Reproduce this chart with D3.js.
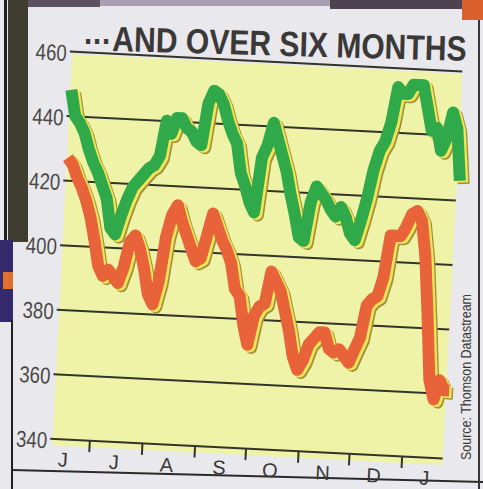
<!DOCTYPE html>
<head>
<meta charset="utf-8">
<script src="https://d3js.org/d3.v7.min.js"></script>
<style>
  body { margin: 0; background: #e9e8ec; }
  svg { display: block; }
  .narrow { font-family: "Liberation Sans Narrow", "Arial Narrow", "Liberation Sans", Arial, sans-serif; }
</style>
</head>
<body>
<div id="chart"></div>
<script>
var dates = [
  "2004-06-10","2004-06-13","2004-06-16","2004-06-19","2004-06-22","2004-06-25","2004-06-28",
  "2004-07-01","2004-07-04","2004-07-07","2004-07-10","2004-07-13","2004-07-16","2004-07-19","2004-07-22","2004-07-25","2004-07-28","2004-07-31",
  "2004-08-03","2004-08-06","2004-08-09","2004-08-12","2004-08-15","2004-08-18","2004-08-21","2004-08-24","2004-08-27","2004-08-30",
  "2004-09-02","2004-09-05","2004-09-08","2004-09-11","2004-09-14","2004-09-17","2004-09-20","2004-09-23","2004-09-26","2004-09-29",
  "2004-10-02","2004-10-05","2004-10-08","2004-10-11","2004-10-14","2004-10-17","2004-10-20","2004-10-23","2004-10-26","2004-10-29",
  "2004-11-01","2004-11-04","2004-11-07","2004-11-10","2004-11-13","2004-11-16","2004-11-19","2004-11-22","2004-11-25","2004-11-28",
  "2004-12-01","2004-12-04","2004-12-07","2004-12-10","2004-12-13","2004-12-16","2004-12-19","2004-12-22","2004-12-25","2004-12-28","2004-12-31",
  "2005-01-03","2005-01-06","2005-01-09","2005-01-12","2005-01-15","2005-01-18","2005-01-21","2005-01-24","2005-01-27"
];

var greenValues = [
  448, 440, 438, 435, 430, 426, 423,
  419, 415, 406, 404, 410, 415, 419, 421, 423, 425, 426,
  429, 440, 436, 441, 441, 438, 437, 434, 433, 446,
  450, 449, 446, 441, 437, 434, 425, 421, 416, 413,
  430, 434, 441, 436, 431, 426, 419, 413, 406, 405,
  417, 422, 420, 418, 415, 413, 416, 413, 408, 406,
  412, 419, 428, 434, 437, 443, 454, 452, 452, 455, 455,
  455, 448, 441, 442, 435, 439, 447, 442, 426
];

var redValues = [
  427, 425, 421, 418, 414, 409, 402,
  394, 391, 393, 391, 389, 394, 402, 404, 400, 394, 386,
  383, 390, 404, 411, 414, 409, 405, 401, 397, 398,
  405, 412, 408, 404, 401, 397, 389, 387, 378, 372,
  381, 384, 385, 395, 392, 389, 383, 377, 369, 365,
  368, 373, 375, 377, 377, 372, 371, 372, 370, 368,
  372, 376, 386, 388, 389, 395, 408, 408, 408, 411, 415,
  416, 413, 402, 384, 364, 358, 364, 361, 361
];

var yTicks = [340, 360, 380, 400, 420, 440, 460];
var monthTicks = ["2004-07-01","2004-08-01","2004-09-01","2004-10-01","2004-11-01","2004-12-01","2005-01-01"];
var monthLabels = ["J","J","A","S","O","N","D","J"];
var monthLabelDates = ["2004-06-16","2004-07-16","2004-08-16","2004-09-16","2004-10-16","2004-11-16","2004-12-16","2005-01-15"];
var title = "AND OVER SIX MONTHS";
var source = "Source: Thomson Datastream";

var W = 483, H = 489;
var parse = d3.timeParse("%Y-%m-%d");

var svg = d3.select("#chart").append("svg")
    .attr("width", W)
    .attr("height", H);

// newspaper page around the graphic
svg.append("rect").attr("width", W).attr("height", H).attr("fill", "#e9e8ec");
svg.append("rect").attr("x", 28).attr("y", 0).attr("width", 72).attr("height", 7).attr("fill", "#5d5060");
svg.append("rect").attr("x", 100).attr("y", 0).attr("width", 230).attr("height", 6).attr("fill", "#a99db4");
svg.append("rect").attr("x", 330).attr("y", 0).attr("width", 132).attr("height", 9).attr("fill", "#4f4250");
svg.append("rect").attr("x", 462).attr("y", 0).attr("width", 21).attr("height", 20).attr("fill", "#d9602c");
svg.append("rect").attr("x", 8).attr("y", 0).attr("width", 20).attr("height", 242).attr("fill", "#3f3d30");
svg.append("rect").attr("x", 4).attr("y", 0).attr("width", 3).attr("height", 242).attr("fill", "#1e1e1e");
svg.append("rect").attr("x", 0).attr("y", 240).attr("width", 13).attr("height", 82).attr("fill", "#34296a");
svg.append("rect").attr("x", 3).attr("y", 272).attr("width", 10).attr("height", 17).attr("fill", "#e07030");
svg.append("line").attr("x1", 12).attr("y1", 320).attr("x2", 12).attr("y2", H)
    .attr("stroke", "#222").attr("stroke-width", 2);
svg.append("line").attr("x1", 12).attr("y1", 470).attr("x2", W).attr("y2", 482)
    .attr("stroke", "#2a2a2a").attr("stroke-width", 2);
svg.append("line").attr("x1", 479).attr("y1", 20).attr("x2", 479).attr("y2", H)
    .attr("stroke", "#3a3438").attr("stroke-width", 2);

// the scanned chart is slightly tilted
var g = svg.append("g").attr("transform", "rotate(2.9,255,250)");

var x = d3.scaleTime()
    .domain([parse("2004-07-01"), parse("2005-01-01")])
    .range([99.2, 411.9]);

var y = d3.scaleLinear()
    .domain([340, 460])
    .range([448.3, 60.7]);

var left = 60, right = 453;

// pale yellow plot background
g.append("rect")
    .attr("x", 62.5).attr("y", y(460) + 3)
    .attr("width", right - 62.5).attr("height", y(340) + 7 - y(460) - 3)
    .attr("fill", "#eef3a8");

// gridlines + value labels
var yAxis = g.append("g")
    .attr("transform", "translate(" + left + ",0)")
    .call(d3.axisLeft(y).tickValues(yTicks).tickSize(-(right - left)).tickPadding(3));
yAxis.select(".domain").remove();
yAxis.selectAll("line").attr("stroke", "#34332a").attr("stroke-width", 2);
yAxis.selectAll("text")
    .attr("class", "narrow")
    .attr("font-size", 23)
    .attr("fill", "#4a4848")
    .attr("dy", "0.42em")
    .attr("textLength", 31)
    .attr("lengthAdjust", "spacingAndGlyphs");

// month dividers
var xAxis = g.append("g")
    .attr("transform", "translate(0," + y(340) + ")")
    .call(d3.axisBottom(x).tickValues(monthTicks.map(parse)).tickSize(12).tickFormat(""));
xAxis.select(".domain").remove();
xAxis.selectAll("line").attr("stroke", "#34332a").attr("stroke-width", 2);

g.selectAll(".month")
    .data(monthLabels)
    .enter().append("text")
    .attr("class", "month narrow")
    .attr("x", function(d, i) { return x(parse(monthLabelDates[i])); })
    .attr("y", 476)
    .attr("text-anchor", "middle")
    .attr("font-size", 20)
    .attr("fill", "#3a3838")
    .text(function(d) { return d; });

// series
var greenData = dates.map(function(d, i) { return {date: parse(d), value: greenValues[i]}; });
var redData = dates.map(function(d, i) { return {date: parse(d), value: redValues[i]}; });

var line = d3.line()
    .x(function(d) { return x(d.date); })
    .y(function(d) { return y(d.value); });

function drawSeries(data, colour) {
  // dotted olive shadow, thin yellow rim, then the line itself
  var layers = [
    {dx: 4, dy: 3, c: "#a1903f"},
    {dx: 2.5, dy: 1.6, c: "#f2e656"},
    {dx: 0, dy: 0, c: colour}
  ];
  layers.forEach(function(l) {
    g.append("path")
      .datum(data)
      .attr("transform", "translate(" + l.dx + "," + l.dy + ")")
      .attr("fill", "none")
      .attr("stroke", l.c)
      .attr("stroke-width", 12)
      .attr("stroke-linejoin", "round")
      .attr("d", line);
  });
}
drawSeries(redData, "#e8623a");
drawSeries(greenData, "#30a94a");

// title (regular sans, squeezed horizontally like the printed condensed face)
svg.append("text")
    .attr("transform", "translate(84,44) scale(0.86,1)")
    .attr("font-family", "'Liberation Sans', Arial, sans-serif")
    .attr("font-size", 34).attr("font-weight", "bold")
    .attr("letter-spacing", 1)
    .attr("fill", "#3b3838")
    .text("...");
svg.append("text")
    .attr("transform", "translate(112,51) rotate(1.6) scale(0.86,1)")
    .attr("font-family", "'Liberation Sans', Arial, sans-serif")
    .attr("font-size", 35).attr("font-weight", "bold")
    .attr("fill", "#3b3838")
    .text(title);

// source note
svg.append("text")
    .attr("class", "narrow")
    .attr("transform", "translate(466,377) rotate(-90)")
    .attr("text-anchor", "middle")
    .attr("dy", "0.35em")
    .attr("font-size", 15)
    .attr("fill", "#3a3838")
    .attr("textLength", 166).attr("lengthAdjust", "spacingAndGlyphs")
    .text(source);
</script>
</body>
</html>
